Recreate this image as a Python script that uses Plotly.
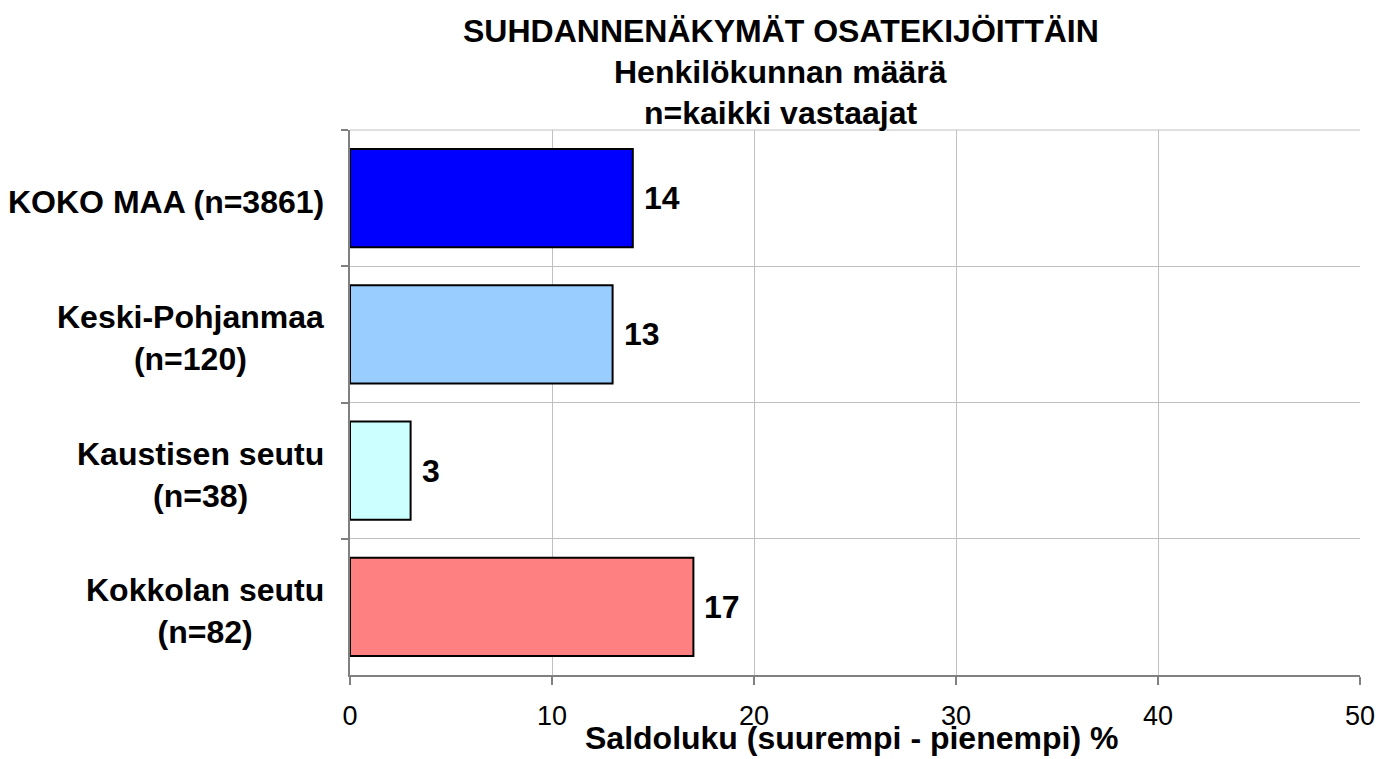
import plotly.graph_objects as go

# data
categories = ['KOKO MAA (n=3861)', 'Keski-Pohjanmaa<br>(n=120)', 'Kaustisen seutu<br>(n=38)', 'Kokkolan seutu<br>(n=82)']
values = [14, 13, 3, 17]
bar_colours = ['#0000FF', '#99CCFF', '#CCFFFF', '#FF8080']
title_lines = ['SUHDANNENÄKYMÄT OSATEKIJÖITTÄIN', 'Henkilökunnan määrä', 'n=kaikki vastaajat']
x_title = 'Saldoluku (suurempi - pienempi) %'
x_ticks = [0, 10, 20, 30, 40, 50]

font_family = 'Liberation Sans, Arial, sans-serif'
axis_line_colour = '#808080'
grid_colour = '#C0C0C0'
label_size = 32

fig = go.Figure(go.Bar(
    x=values,
    y=categories,
    orientation='h',
    width=0.72,
    marker=dict(color=bar_colours, line=dict(color='black', width=2)),
    hoverinfo='x+y',
))

# value labels next to bar ends
for cat, val in zip(categories, values):
    fig.add_annotation(x=val, y=cat, text=f'<b>{val}</b>', showarrow=False,
                       xanchor='left', yanchor='middle', xshift=9,
                       font=dict(family=font_family, size=label_size, color='black'))

# category labels, centred lines, right edge near the axis
for cat in categories:
    fig.add_annotation(x=0, xref='paper', y=cat, text=f'<b>{cat}</b>', showarrow=False,
                       xanchor='right', yanchor='middle', xshift=-24, yshift=-4, align='center',
                       font=dict(family=font_family, size=label_size, color='black'))

# three-line title
for line, ypos in zip(title_lines, [1.1817, 1.1064, 1.0312]):
    fig.add_annotation(x=0.4267, xref='paper', y=ypos, yref='paper', text=f'<b>{line}</b>',
                       showarrow=False, xanchor='center', yanchor='middle',
                       font=dict(family=font_family, size=label_size, color='black'))

# x axis title sits just under the tick labels, touching them like in the original
fig.add_annotation(x=0.497, xref='paper', y=-0.1156, yref='paper', text=f'<b>{x_title}</b>',
                   showarrow=False, xanchor='center', yanchor='middle',
                   font=dict(family=font_family, size=label_size, color='black'))

# top boundary gridline (category axis doesn't draw the outer one)
fig.add_shape(type='line', xref='paper', yref='paper', x0=0, x1=1, y0=1, y1=1,
              line=dict(color=grid_colour, width=1), layer='below')

fig.update_xaxes(range=[0, 50], tickvals=x_ticks, ticks='outside', ticklen=8, tickwidth=2,
                 tickcolor=axis_line_colour, showline=True, linecolor=axis_line_colour, linewidth=2,
                 showgrid=True, gridcolor=grid_colour, gridwidth=1, zeroline=False,
                 ticklabelstandoff=8, ticklabeloverflow='allow', automargin=False,
                 tickfont=dict(family=font_family, size=27, color='black'))
fig.update_yaxes(type='category', autorange='reversed', tickson='boundaries', ticks='outside',
                 ticklen=7, tickwidth=2, tickcolor=axis_line_colour, showticklabels=False,
                 showline=True, linecolor=axis_line_colour, linewidth=2, automargin=False,
                 showgrid=True, gridcolor=grid_colour, gridwidth=1)

fig.update_layout(width=1380, height=759, margin=dict(l=350, r=20, t=130, b=84),
                  plot_bgcolor='white', paper_bgcolor='white', showlegend=False,
                  font=dict(family=font_family))

# drop the default 8px body margin so the figure fills the window exactly
fig.write_html('out.html', config={'displayModeBar': False},
               post_script="document.body.style.margin='0';")
